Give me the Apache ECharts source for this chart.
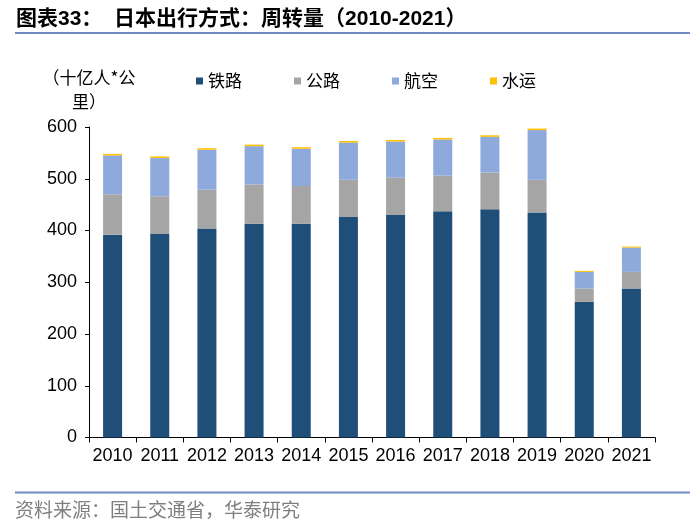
<!DOCTYPE html>
<html>
<head>
<meta charset="utf-8">
<script src="https://cdn.jsdelivr.net/npm/echarts@6/dist/echarts.min.js"></script>
<style>
html,body{margin:0;padding:0;background:#fff;}
#c{width:700px;height:527px;}
</style>
</head>
<body>
<div id="c"></div>
<script>
var categories = ['2010','2011','2012','2013','2014','2015','2016','2017','2018','2019','2020','2021'];
var railway = [392, 394, 404, 413, 413, 426, 430, 437, 441, 435, 262, 288];
var road    = [78, 72, 75, 76, 73, 72, 72, 69, 71, 63, 26, 32];
var air     = [75, 74, 77, 74, 72, 72, 70, 70, 69, 96, 32, 47];
var water   = [3, 3, 3, 3, 3, 3, 3, 3, 3, 3, 2, 2];
var seriesNames = ['铁路', '公路', '航空', '水运'];
var yTicks = [0, 100, 200, 300, 400, 500, 600];

var latin = '"Liberation Sans", Arial, "Noto Sans CJK SC", sans-serif';
var cjk = '"Noto Sans CJK SC", "Liberation Sans", sans-serif';

var chart = echarts.init(document.getElementById('c'), null, {renderer: 'canvas'});
var colors = ['#1F4E79', '#A5A5A5', '#8EA9DB', '#FFC000'];
var dataSets = [railway, road, air, water];

var option = {
  animation: false,
  backgroundColor: '#ffffff',
  color: colors,
  grid: {left: 89, right: 45, top: 127, bottom: 89.5, containLabel: false},
  legend: {
    data: seriesNames,
    left: 196,
    top: 72.5,
    padding: 0,
    icon: 'rect',
    itemWidth: 7,
    itemHeight: 7,
    itemGap: 52,
    textStyle: {fontFamily: cjk, fontSize: 17, color: '#000'}
  },
  xAxis: {
    type: 'category',
    data: categories,
    axisLine: {lineStyle: {color: '#000', width: 1}},
    axisTick: {show: true, length: 5, lineStyle: {color: '#000'}},
    axisLabel: {fontFamily: latin, fontSize: 18, color: '#000', margin: 10, interval: 0}
  },
  yAxis: {
    type: 'value',
    min: yTicks[0],
    max: yTicks[yTicks.length - 1],
    interval: 100,
    name: '（十亿人*公\n里）',
    nameLocation: 'end',
    nameGap: 13,
    nameTextStyle: {fontFamily: cjk, fontSize: 17, color: '#000', align: 'center', verticalAlign: 'bottom', lineHeight: 24},
    axisLine: {show: true, lineStyle: {color: '#000', width: 1}},
    axisTick: {show: true, length: 4, lineStyle: {color: '#000'}},
    axisLabel: {fontFamily: latin, fontSize: 18, color: '#000', margin: 12},
    splitLine: {show: false}
  },
  series: seriesNames.map(function (n, i) {
    return {
      name: n,
      type: 'bar',
      stack: 'total',
      barWidth: 19,
      data: dataSets[i],
      itemStyle: {color: colors[i]}
    };
  }),
  graphic: [
    {type: 'text', left: 16, top: 9, style: {text: '图表33：  日本出行方式：周转量（2010-2021）', font: 'bold 21px ' + latin, fill: '#000'}},
    {type: 'line', shape: {x1: 15, y1: 33, x2: 690, y2: 33}, style: {stroke: '#6E8CC0', lineWidth: 2}},
    {type: 'line', shape: {x1: 15, y1: 492.5, x2: 690, y2: 492.5}, style: {stroke: '#6E8CC0', lineWidth: 2}},
    {type: 'text', left: 15, top: 500, style: {text: '资料来源：国土交通省，华泰研究', font: '19px ' + cjk, fill: '#7F7F7F'}}
  ]
};
chart.setOption(option);
</script>
</body>
</html>
